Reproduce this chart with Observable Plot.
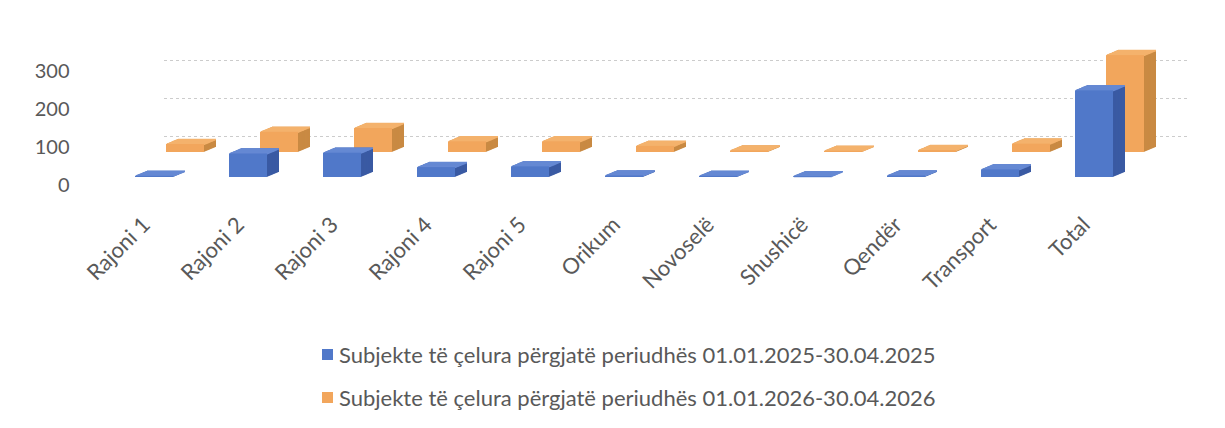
<!DOCTYPE html>
<html>
<head>
<meta charset="utf-8">
<script src="https://cdn.jsdelivr.net/npm/d3@7"></script>
<script src="https://cdn.jsdelivr.net/npm/@observablehq/plot@0.6"></script>
<style>
  body { margin: 0; background: #ffffff; font-family: Lato, "Open Sans", sans-serif; }
  #wrap { position: relative; width: 1225px; height: 428px; overflow: hidden; }
  #chart { position: absolute; left: 0; top: 0; }
  #legend { position: absolute; left: 322px; top: 333px; color: #595959; font-size: 22px; }
  .row { height: 43px; display: flex; align-items: center; }
  .sw { width: 11px; height: 11px; margin-right: 6px; display: inline-block; }
</style>
</head>
<body>
<div id="wrap"><div id="chart"></div><div id="legend"></div></div>
<script>
// ---- data ----
const categories = ["Rajoni 1", "Rajoni 2", "Rajoni 3", "Rajoni 4", "Rajoni 5", "Orikum", "Novoselë", "Shushicë", "Qendër", "Transport", "Total"];
const values2025 = [3, 62, 64, 26, 28, 4, 3, 2, 4, 20, 228];
const values2026 = [21, 53, 63, 28, 28, 16, 4, 3, 5, 22, 255];
const seriesNames = [
  "Subjekte të çelura përgjatë periudhës 01.01.2025-30.04.2025",
  "Subjekte të çelura përgjatë periudhës 01.01.2026-30.04.2026"
];
const yTicks = [0, 100, 200, 300];

// ---- styles ----
const front = ["#5078c9", "#f2a65c"];
const topC  = ["#6689d3", "#f4b26c"];
const side  = ["#3a5aa3", "#c98a43"];
const grey = "#595959";

const rows2025 = categories.map((c, i) => ({cat: c, value: values2025[i], series: seriesNames[0]}));
const rows2026 = categories.map((c, i) => ({cat: c, value: values2026[i], series: seriesNames[1]}));

function prism(data, s, baseDx, baseDy) {
  const marks = [];
  const N = 14, DX = 12, DY = -5;
  for (let k = N; k >= 1; k--) {
    marks.push(Plot.barY(data, {x: "cat", y: "value", fill: side[s], dx: baseDx + k * DX / N, dy: baseDy + k * DY / N}));
  }
  for (let k = N; k >= 1; k--) {
    marks.push(Plot.tickY(data, {x: "cat", y: "value", stroke: topC[s], strokeWidth: 1.6, dx: baseDx + k * DX / N, dy: baseDy + k * DY / N}));
  }
  marks.push(Plot.barY(data, {x: "cat", y: "value", fill: front[s], dx: baseDx, dy: baseDy}));
  return marks;
}

const chart = Plot.plot({
  width: 1225,
  height: 310,
  marginLeft: 74,
  marginRight: 51,
  marginTop: 63,
  marginBottom: 133,
  style: {fontFamily: "Lato, 'Open Sans', sans-serif", background: "transparent"},
  x: {domain: categories, padding: 0.6, label: null},
  y: {domain: [0, 300], label: null},
  marks: [
    Plot.ruleY(yTicks.filter(d => d > 0), {stroke: "#cccccc", strokeDasharray: "3,3", strokeWidth: 1, dy: -3, insetLeft: 90, insetRight: -16}),
    Plot.axisY(yTicks, {tickSize: 0, tickPadding: 5, fontSize: 20, dy: 8, color: grey, label: null}),
    Plot.axisX({tickSize: 0, tickRotate: -45, fontSize: 22, dy: 32, dx: -8, color: grey, label: null}),
    ...prism(rows2026, 1, 31, -25),
    ...prism(rows2025, 0, 0, 0)
  ]
});
document.getElementById("chart").appendChild(chart);

const legend = document.getElementById("legend");
seriesNames.forEach((name, i) => {
  const row = document.createElement("div");
  row.className = "row";
  const sw = document.createElement("span");
  sw.className = "sw";
  sw.style.background = front[i];
  row.appendChild(sw);
  row.appendChild(document.createTextNode(name));
  legend.appendChild(row);
});
</script>
</body>
</html>
